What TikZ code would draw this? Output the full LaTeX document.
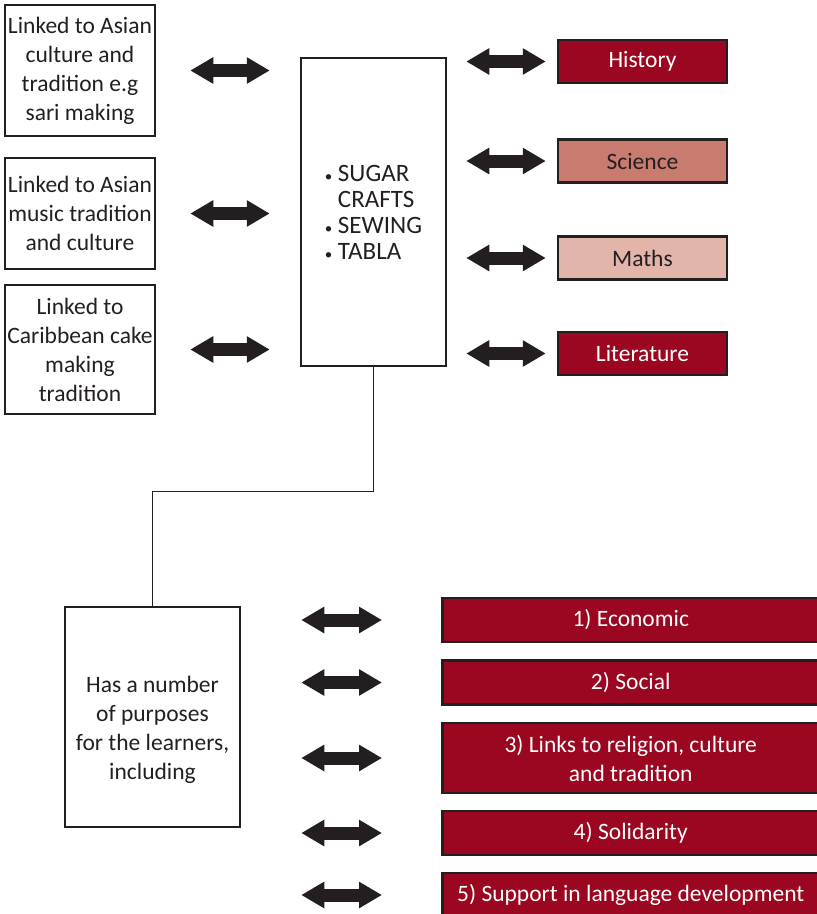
\documentclass[tikz,border=0pt]{standalone}
\usepackage{fontspec}
\setmainfont{Carlito}
\usetikzlibrary{positioning,arrows.meta}
\definecolor{ink}{HTML}{231F20}
\definecolor{wine}{HTML}{9B0620}
\definecolor{rose}{HTML}{C97B6F}
\definecolor{blush}{HTML}{E3B5AA}
\newcommand{\dotitem}{{\fontsize{15}{15}\selectfont\textbullet}\ }

\begin{document}
\begin{tikzpicture}[
    x=1pt, y=-1pt,
    box/.style={rectangle, draw=ink, line width=2.5pt, text=ink, align=center, inner sep=0pt, font=\fontsize{23.5}{29}\selectfont},
    subj/.style={box, minimum width=169pt, minimum height=43pt},
    purpose/.style={box, fill=wine, text=white, minimum width=377pt, minimum height=44pt, anchor=west},
    twoway/.style={ink, line width=13pt, {Triangle[length=23pt 0 0,width=25pt 0 0]}-{Triangle[length=23pt 0 0,width=25pt 0 0]}},
    link/.style={ink, line width=1.3pt}
]
    \useasboundingbox (0,0) rectangle (817,914);

    % left column
    \node[box, minimum width=150pt, minimum height=131pt] (sari) at (80,70.5) {Linked to Asian\\culture and\\tradition e.g\\sari making};
    \node[box, minimum width=150pt, minimum height=111pt] (music) at (80,213.5) {Linked to Asian\\music tradition\\and culture};
    \node[box, minimum width=150pt, minimum height=129pt] (cake) at (80,349.5) {Linked to\\Caribbean cake\\making\\tradition};

    % centre
    \node[box, minimum width=145pt, minimum height=308pt, align=left, font=\fontsize{25}{26}\selectfont] (crafts) at (373.5,212)
        {\dotitem SUGAR\\\phantom{\dotitem}CRAFTS\\\dotitem SEWING\\\dotitem TABLA};

    % subjects
    \node[subj, fill=wine, text=white] (hist) at (642.5,61.5) {History};
    \node[subj, fill=rose] (sci) at (642.5,161) {Science};
    \node[subj, fill=blush] (maths) at (642.5,258) {Maths};
    \node[subj, fill=wine, text=white] (lit) at (642.5,353.5) {Literature};

    % purposes
    \node[box, minimum width=175pt, minimum height=220pt] (learn) at (152.5,717)
        {\rule{0pt}{42pt}Has a number\\of purposes\\for the learners,\\including};
    \node[purpose] (econ) at (441,620) {1) Economic};
    \node[purpose] (social) at (441,682.5) {2) Social};
    \node[purpose, minimum height=70pt] (relig) at (441,758) {3) Links to religion, culture\\and tradition};
    \node[purpose] (solid) at (441,833) {4) Solidarity};
    \node[purpose] (lang) at (441,895) {5) Support in language development};

    \draw[link] (crafts.south) -- ++(0,124) -| (learn.north);

    \foreach \n in {sari, music, cake}
        \draw[twoway, shorten <=34pt, shorten >=30pt] (\n.east) -- (\n.east -| crafts.west);
    \foreach \n in {hist, sci, maths, lit}
        \draw[twoway, shorten <=19pt, shorten >=11pt] (\n.west -| crafts.east) -- (\n.west);
    \foreach \n in {econ, social, relig, solid, lang}
        \draw[twoway, shorten <=60pt, shorten >=59pt] (\n.west -| learn.east) -- (\n.west);
\end{tikzpicture}
\end{document}
